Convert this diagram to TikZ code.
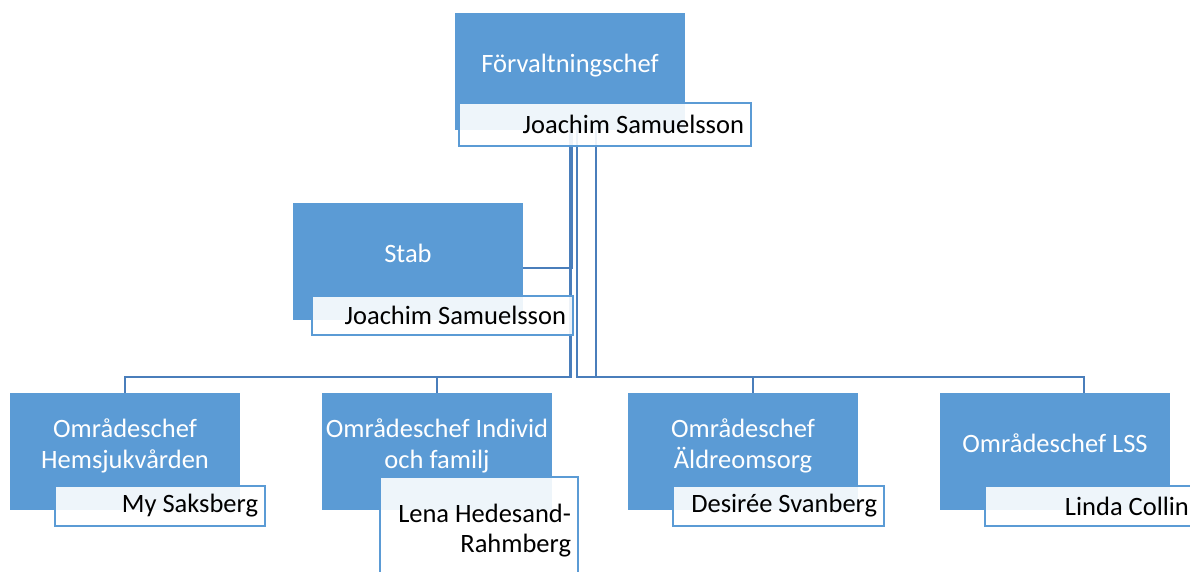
\documentclass[tikz,border=0pt]{standalone}
\usepackage{fontspec}
\setmainfont{Carlito}
\definecolor{unitblue}{HTML}{5B9BD5}
\definecolor{linkblue}{HTML}{4A7EBB}
\begin{document}
\begin{tikzpicture}[x=1pt,y=-1pt,
    unit/.style={fill=unitblue,minimum width=230pt,minimum height=117pt,inner sep=0pt},
    unittext/.style={text=white,align=flush center,font=\fontsize{26.5}{31}\selectfont,inner sep=0pt},
    namebox/.style={draw=unitblue,line width=2pt,fill=white,fill opacity=0.9,text opacity=1,
        align=flush right,inner xsep=7pt,inner ysep=0pt,font=\fontsize{26.5}{30}\selectfont},
    conn/.style={draw=linkblue,line width=2pt}]
    \useasboundingbox (0,0) rectangle (1190,572);
    \clip (0,0) rectangle (1190,572);

    \node[unit] (fc) at (570,71.5) {};
    \node[unit] (stab) at (408,261.5) {};
    \node[unit] (hem) at (125,451.5) {};
    \node[unit] (ifo) at (437,451.5) {};
    \node[unit] (aldre) at (743,451.5) {};
    \node[unit] (lss) at (1055,451.5) {};

    \draw[conn] (fc.south) ++(2,0) |- ([yshift=-6.5pt]stab.east);
    \draw[conn] (fc.south) -- ++(0,247) -| (hem.north);
    \draw[conn] (fc.south) ++(1,0) -- ++(0,247) -| (ifo.north);
    \draw[conn] (fc.south) ++(7,0) -- ++(0,247) -| ([xshift=10pt]aldre.north);
    \draw[conn] (fc.south) ++(26,0) -- ++(0,247) -| ([xshift=29pt]lss.north);

    \node[unittext] (fct) at (570,65.5) {Förvaltningschef};
    \node[unittext] (stabt) at (408,253) {Stab};
    \node[unittext] (hemt) at (125,446) {Områdeschef\\Hemsjukvården};
    \node[unittext] (ifot) at (437,446) {Områdeschef Individ\\och familj};
    \node[unittext] (aldret) at (743,446) {Områdeschef\\Äldreomsorg};
    \node[unittext] (lsst) at (1055,443) {Områdeschef LSS};

    \node[namebox,text width=278pt,minimum height=43pt] (fcn) at (605,124.5) {Joachim Samuelsson};
    \node[namebox,text width=247pt,minimum height=39pt] (stabn) at (442.5,315.5) {Joachim Samuelsson};
    \node[namebox,text width=196pt,minimum height=40pt] (hemn) at (160,506) {My Saksberg};
    \node[namebox,text width=184pt,minimum height=108pt] (ifon) at (479,531) {Lena Hedesand-\\Rahmberg};
    \node[namebox,text width=197pt,minimum height=40pt] (aldren) at (778.5,506) {Desirée Svanberg};
    \node[namebox,text width=197pt,minimum height=40pt] (lssn) at (1090.5,506) {Linda Collin};
\end{tikzpicture}
\end{document}
